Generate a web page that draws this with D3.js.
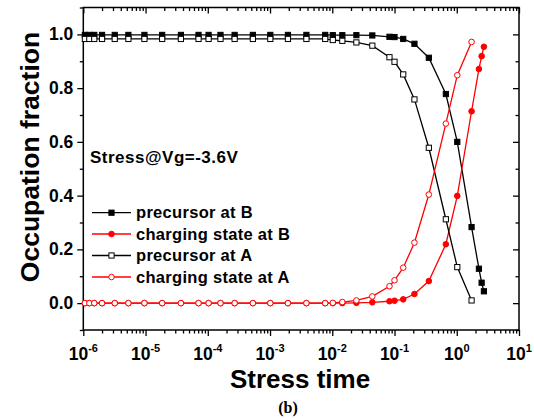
<!DOCTYPE html>
<html>
<head>
<meta charset="utf-8">
<style>
body { margin:0; background:#ffffff; }
svg { display:block; font-family:Arial, "Liberation Sans", sans-serif; }
</style>
<script src="https://cdn.jsdelivr.net/npm/d3@7/dist/d3.min.js"></script>
</head>
<body>
<svg id="chart" width="534" height="419"></svg>
<script>
// stress time (s)
var timeA = [1.06e-6, 1.25e-6, 1.5e-6, 2e-6, 3.2e-6, 5.3e-6, 9.6e-6, 1.85e-5, 3.7e-5, 7.1e-5,
	1.03e-4, 1.6e-4, 2.7e-4, 5.3e-4, 1.01e-3, 1.94e-3, 3.84e-3, 7.7e-3, 1.02e-2, 1.45e-2,
	2.44e-2, 4.4e-2, 8.3e-2, 0.1, 0.138, 0.209, 0.356, 0.668, 1.02, 1.73];
var timeB = [1.06e-6, 1.25e-6, 1.5e-6, 2e-6, 3.2e-6, 5.3e-6, 9.6e-6, 1.85e-5, 3.7e-5, 7.1e-5,
	1.03e-4, 1.6e-4, 2.7e-4, 5.3e-4, 1.01e-3, 1.94e-3, 3.84e-3, 7.7e-3, 1.02e-2, 1.45e-2,
	2.44e-2, 4.4e-2, 8.3e-2, 0.1, 0.138, 0.209, 0.356, 0.668, 1.02, 1.73, 2.27, 2.51, 2.73];

var precursorB = [0.998, 0.998, 0.998, 0.998, 0.998, 0.998, 0.998, 0.998, 0.998, 0.998,
	0.998, 0.998, 0.998, 0.998, 0.998, 0.998, 0.998, 0.998, 0.997, 0.997,
	0.997, 0.996, 0.991, 0.990, 0.983, 0.965, 0.913, 0.778, 0.600, 0.283, 0.128, 0.076, 0.044];
var chargingB = [0, 0, 0, 0, 0, 0, 0, 0, 0, 0,
	0, 0, 0, 0, 0, 0, 0, 0, 0, 0,
	0.001, 0.003, 0.007, 0.009, 0.014, 0.034, 0.082, 0.219, 0.399, 0.714, 0.871, 0.919, 0.954];
var precursorA = [0.983, 0.983, 0.983, 0.983, 0.983, 0.983, 0.983, 0.983, 0.983, 0.983,
	0.983, 0.983, 0.983, 0.983, 0.983, 0.983, 0.983, 0.983, 0.979, 0.976,
	0.970, 0.958, 0.915, 0.898, 0.851, 0.758, 0.578, 0.312, 0.134, 0.010];
var chargingA = [0, 0, 0, 0, 0, 0, 0, 0, 0, 0,
	0, 0, 0, 0, 0, 0, 0, 0, 0.001, 0.004,
	0.010, 0.025, 0.063, 0.085, 0.132, 0.225, 0.404, 0.668, 0.848, 0.972];

var seriesNames = ["precursor at B", "charging state at B", "precursor at A", "charging state at A"];
var yTicks = [0, 0.2, 0.4, 0.6, 0.8, 1.0];
var xDecades = [-6, -5, -4, -3, -2, -1, 0, 1];

var series = [
	{name: seriesNames[0], t: timeB, v: precursorB, color: "#000000", shape: "square", filled: true},
	{name: seriesNames[1], t: timeB, v: chargingB, color: "#ff0000", shape: "circle", filled: true},
	{name: seriesNames[2], t: timeA, v: precursorA, color: "#000000", shape: "square", filled: false},
	{name: seriesNames[3], t: timeA, v: chargingA, color: "#ff0000", shape: "circle", filled: false}
];

var L = 83.3, R = 519, T = 7.5, B = 330;
var svg = d3.select("#chart");
var xScale = d3.scaleLog().domain([1e-6, 10]).range([L, R]);
var yScale = d3.scaleLinear().domain([-0.1, 1.1]).range([B, T]);

// minor tick values
var xMinor = [];
xDecades.slice(0, -1).forEach(function(e) {
	for (var k = 2; k < 10; k++) xMinor.push(k * Math.pow(10, e));
});
var xMajor = xDecades.map(function(e) { return Math.pow(10, e); });
var yMinor = [-0.1, 0.1, 0.3, 0.5, 0.7, 0.9, 1.1];

function axisStyle(g) {
	g.select(".domain").remove();
	g.selectAll(".tick line").attr("stroke", "#000").attr("stroke-width", 1.3);
}

// bottom (outward)
svg.append("g").attr("transform", "translate(0," + B + ")")
	.call(d3.axisBottom(xScale).tickValues(xMajor).tickSize(6).tickFormat("")).call(axisStyle);
svg.append("g").attr("transform", "translate(0," + B + ")")
	.call(d3.axisBottom(xScale).tickValues(xMinor).tickSize(3.5).tickFormat("")).call(axisStyle);
// top (inward)
svg.append("g").attr("transform", "translate(0," + T + ")")
	.call(d3.axisBottom(xScale).tickValues(xMajor).tickSize(6).tickFormat("")).call(axisStyle);
svg.append("g").attr("transform", "translate(0," + T + ")")
	.call(d3.axisBottom(xScale).tickValues(xMinor).tickSize(3.5).tickFormat("")).call(axisStyle);
// left (outward)
var yAxisG = svg.append("g").attr("transform", "translate(" + L + ",0)")
	.call(d3.axisLeft(yScale).tickValues(yTicks).tickSize(6).tickPadding(4).tickFormat(d3.format(".1f"))).call(axisStyle);
yAxisG.selectAll("text").attr("font-size", 17.5).attr("font-weight", "bold").attr("fill", "#000")
	.attr("font-family", "Arial, 'Liberation Sans', sans-serif");
svg.append("g").attr("transform", "translate(" + L + ",0)")
	.call(d3.axisLeft(yScale).tickValues(yMinor).tickSize(3.5).tickFormat("")).call(axisStyle);
// right (inward)
svg.append("g").attr("transform", "translate(" + R + ",0)")
	.call(d3.axisLeft(yScale).tickValues(yTicks).tickSize(6).tickFormat("")).call(axisStyle);
svg.append("g").attr("transform", "translate(" + R + ",0)")
	.call(d3.axisLeft(yScale).tickValues(yMinor).tickSize(3.5).tickFormat("")).call(axisStyle);

// frame
svg.append("rect").attr("x", L).attr("y", T).attr("width", R - L).attr("height", B - T)
	.attr("fill", "none").attr("stroke", "#000").attr("stroke-width", 1.5);

// x tick labels 10^n
var xl = svg.append("g").selectAll("text").data(xDecades).enter().append("text")
	.attr("x", function(d) { return xScale(Math.pow(10, d)); })
	.attr("y", 359.5)
	.attr("text-anchor", "middle")
	.attr("font-weight", "bold").attr("font-size", 17.5).attr("fill", "#000");
xl.append("tspan").text("10");
xl.append("tspan").attr("dy", -8).attr("font-size", 11).text(function(d) { return d; });

// axis titles
svg.append("text").text("Stress time").attr("x", 300).attr("y", 388)
	.attr("text-anchor", "middle").attr("font-weight", "bold").attr("font-size", 26);
svg.append("text").text("Occupation fraction")
	.attr("transform", "translate(39,157)rotate(-90)")
	.attr("text-anchor", "middle").attr("font-weight", "bold").attr("font-size", 26.5);
svg.append("text").text("(b)").attr("x", 288).attr("y", 413)
	.attr("text-anchor", "middle").attr("font-weight", "bold").attr("font-size", 16)
	.attr("font-family", "'Liberation Serif', 'Times New Roman', serif");
svg.append("text").text("Stress@Vg=-3.6V").attr("x", 90).attr("y", 163)
	.attr("font-weight", "bold").attr("font-size", 17).attr("letter-spacing", 0.5);

// series
var line = d3.line().x(function(d) { return xScale(d[0]); }).y(function(d) { return yScale(d[1]); });

function drawMarker(g, s, x, y) {
	var fill = s.filled ? s.color : "#ffffff";
	if (s.shape === "square") {
		g.append("rect").attr("x", x - 2.6).attr("y", y - 2.6).attr("width", 5.2).attr("height", 5.2)
			.attr("fill", fill).attr("stroke", s.color).attr("stroke-width", 1);
	} else {
		g.append("circle").attr("cx", x).attr("cy", y).attr("r", 2.8)
			.attr("fill", fill).attr("stroke", s.color).attr("stroke-width", 1);
	}
}

series.forEach(function(s) {
	var pts = s.t.map(function(t, i) { return [t, s.v[i]]; });
	var g = svg.append("g");
	g.append("path").attr("d", line(pts)).attr("fill", "none")
		.attr("stroke", s.color).attr("stroke-width", 1.3);
	pts.forEach(function(p) { drawMarker(g, s, xScale(p[0]), yScale(p[1])); });
});

// legend
var legY = [212.7, 234, 255.5, 277];
series.forEach(function(s, i) {
	var g = svg.append("g");
	g.append("line").attr("x1", 92).attr("x2", 131).attr("y1", legY[i]).attr("y2", legY[i])
		.attr("stroke", s.color).attr("stroke-width", 1.3);
	drawMarker(g, s, 111.5, legY[i]);
	g.append("text").text(s.name).attr("x", 136).attr("y", legY[i] + 5.5)
		.attr("font-weight", "bold").attr("font-size", 16.5).attr("letter-spacing", 0.3).attr("fill", "#000");
});
</script>
</body>
</html>
